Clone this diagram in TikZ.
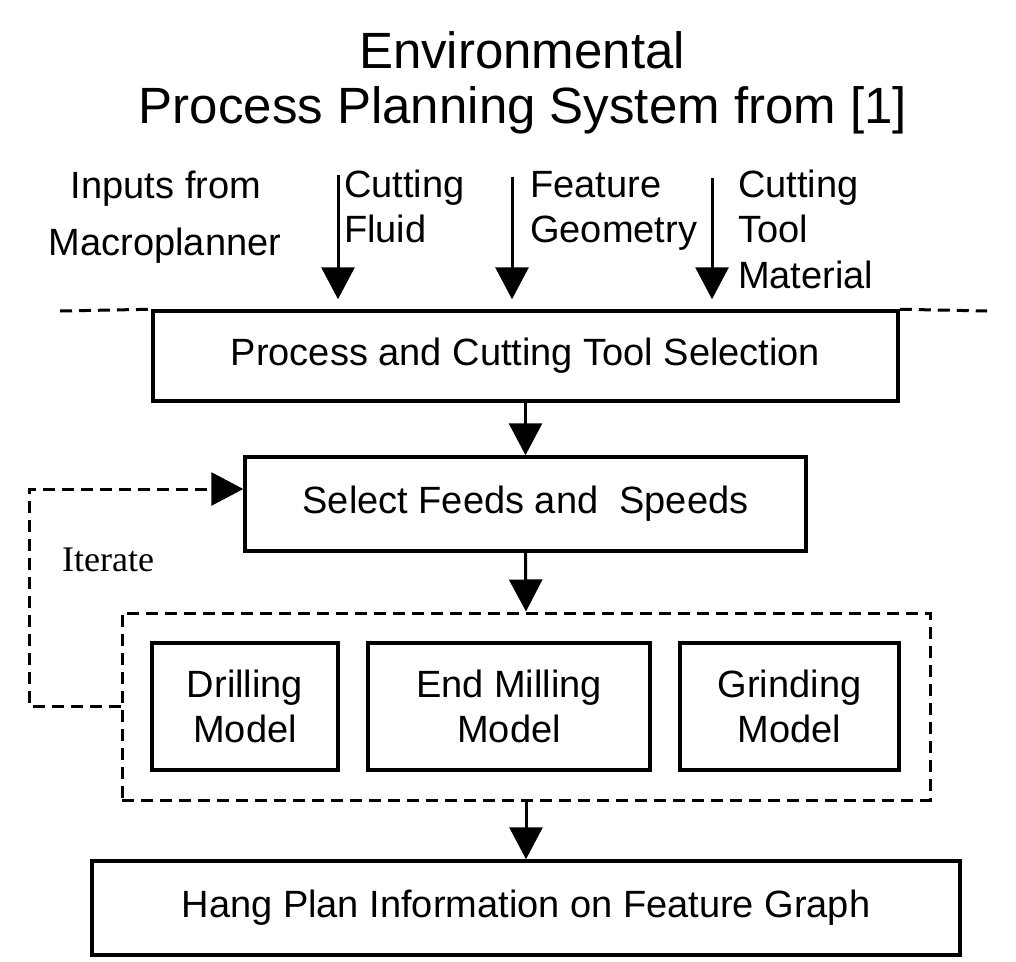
\documentclass[tikz,border=0pt]{standalone}
\usepackage{fontspec}
\setmainfont{Liberation Sans}
\newfontfamily\serifont{Liberation Serif}
\usetikzlibrary{arrows.meta}
\begin{document}
\begin{tikzpicture}[x=1pt,y=-1pt,
  lbl/.style={font=\fontsize{38}{45}\selectfont, inner sep=0pt},
  ttl/.style={font=\fontsize{51}{55}\selectfont, inner sep=0pt, anchor=base},
  boxnode/.style={draw, line width=3.5pt, inner sep=0pt, align=center, font=\fontsize{38}{45}\selectfont},
  arr/.style={line width=3pt, -{Triangle[width=33pt,length=32pt]}},
  dashln/.style={line width=3pt, dash pattern=on 12pt off 7pt}
]
\useasboundingbox (0,0) rectangle (1016,961);

% title
\node[ttl] (t1) at (522,68) {Environmental};
\node[ttl] (t2) at (523,123) {Process Planning System from [1]};

% input labels
\node[lbl, anchor=base] (in1) at (166,198) {Inputs from};
\node[lbl, anchor=base] (in2) at (165,255) {Macroplanner};
\node[lbl, anchor=base west] (cf1) at (344,197) {Cutting};
\node[lbl, anchor=base west] (cf2) at (344,242) {Fluid};
\node[lbl, anchor=base west] (fg1) at (530,197) {Feature};
\node[lbl, anchor=base west] (fg2) at (530,242) {Geometry};
\node[lbl, anchor=base west] (ct1) at (738,197) {Cutting};
\node[lbl, anchor=base west] (ct2) at (738,242) {Tool};
\node[lbl, anchor=base west] (ct3) at (738,288) {Material};

% boxes
\node[boxnode, minimum width=745pt, minimum height=90pt] (proc) at (525.5,356) {Process and Cutting Tool Selection};
\node[boxnode, minimum width=561pt, minimum height=94pt] (sel) at (525.5,504) {Select Feeds and\ \ Speeds};
\node[draw, dashln, minimum width=808pt, minimum height=187pt, inner sep=0pt] (cont) at (526,706.5) {};
\node[boxnode, minimum width=186pt, minimum height=127pt] (drill) at (245,706.5) {Drilling\\Model};
\node[boxnode, minimum width=282pt, minimum height=127pt] (endm) at (509,706.5) {End Milling\\Model};
\node[boxnode, minimum width=219pt, minimum height=127pt] (grind) at (789.5,706.5) {Grinding\\Model};
\node[boxnode, minimum width=868pt, minimum height=94pt] (hang) at (526,908) {Hang Plan Information on Feature Graph};

% dashed separator line
\coordinate (dl) at (60,311);
\coordinate (dr) at (987,311);
\draw[dashln] (dl) -- (proc.north west);
\draw[dashln] (proc.north east) -- (dr);

% input arrows
\coordinate (a1) at (338,175);
\coordinate (a2) at (512,177);
\coordinate (a3) at (712,178);
\draw[arr, shorten >=10pt] (a1) -- (a1 |- proc.north);
\draw[arr, shorten >=10pt] (a2) -- (a2 |- proc.north);
\draw[arr, shorten >=10pt] (a3) -- (a3 |- proc.north);

% flow arrows
\draw[arr] (proc.south) -- (sel.north);
\draw[arr] (sel.south) -- (cont.north);
\draw[arr] (cont.south) -- (hang.north);

% iterate feedback
\coordinate (fbb) at (29,706.5);
\coordinate (fbt) at (29,489);
\draw[dashln, -{Triangle[width=33pt,length=32pt]}] (cont.west) -- (fbb) -- (fbt) -- ([yshift=15pt]sel.west);
\node[font=\serifont\fontsize{36}{40}\selectfont, anchor=base west, inner sep=0pt] (it) at (62,571) {Iterate};
\end{tikzpicture}
\end{document}
